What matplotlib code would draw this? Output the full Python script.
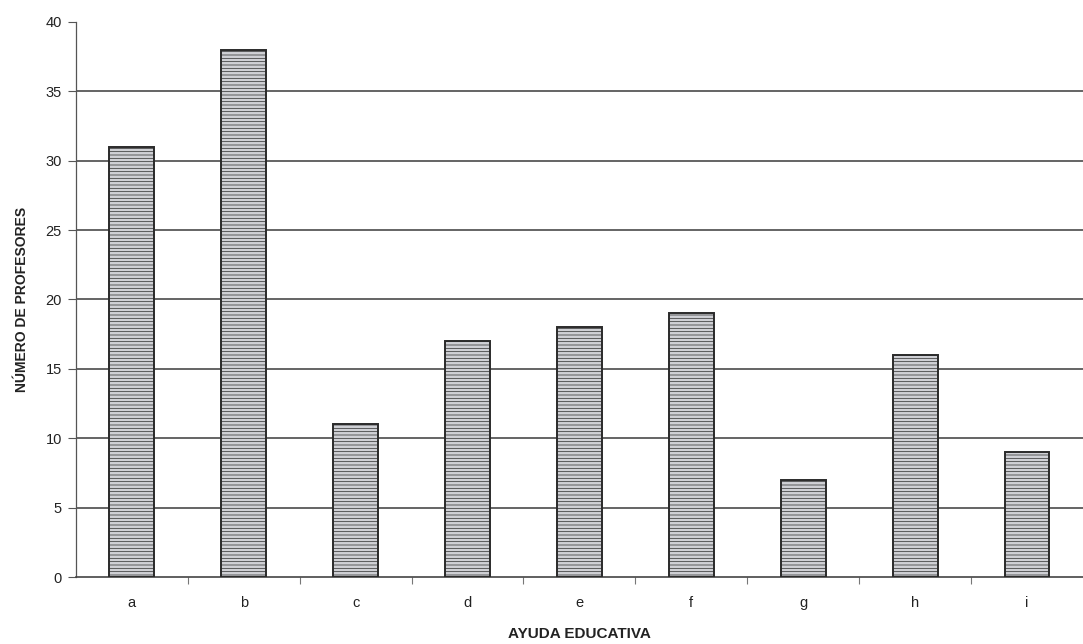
import matplotlib
matplotlib.use("Agg")
import matplotlib.pyplot as plt

categories = ["a", "b", "c", "d", "e", "f", "g", "h", "i"]
profesores = [31, 38, 11, 17, 18, 19, 7, 16, 9]
y_ticks = [0, 5, 10, 15, 20, 25, 30, 35, 40]

plt.rcParams["font.family"] = ["Liberation Sans", "DejaVu Sans"]
plt.rcParams["hatch.color"] = "#b4b5ba"
plt.rcParams["hatch.linewidth"] = 0.5

fig = plt.figure(figsize=(10.83, 6.44), dpi=100)
ax = fig.add_axes([0.070, 0.104, 0.930, 0.862])

x = list(range(len(categories)))
ax.bar(x, profesores, width=0.4, color="#cfd0d5", edgecolor="#2a2a2a",
       linewidth=1.4, hatch="-----", zorder=3)

ax.set_xlim(-0.5, len(categories) - 0.5)
ax.set_ylim(0, 40)
ax.set_yticks(y_ticks)
ax.set_xticks(x)
ax.set_xticklabels(categories)
ax.set_xticks([i + 0.5 for i in x[:-1]], minor=True)

# Horizontal gridlines below the top boundary
for v in y_ticks[1:-1]:
    ax.axhline(v, color="#3a3a3a", linewidth=1.1, zorder=1)

for side in ("top", "right"):
    ax.spines[side].set_visible(False)
ax.spines["left"].set_color("#555555")
ax.spines["bottom"].set_color("#444444")
ax.spines["left"].set_linewidth(0.9)
ax.spines["bottom"].set_linewidth(1.2)

ax.tick_params(axis="y", length=6, width=0.8, colors="#555555",
               labelcolor="#222222", labelsize=10.5, pad=4)
ax.tick_params(axis="x", which="major", length=0, labelsize=10.5,
               labelcolor="#222222", pad=14)
ax.tick_params(axis="x", which="minor", length=5, width=0.8, colors="#777777")

ax.set_ylabel("NÚMERO DE PROFESORES", fontsize=10, fontweight="bold",
              color="#222222", labelpad=12)
ax.set_xlabel("AYUDA EDUCATIVA", fontsize=11, fontweight="bold",
              color="#222222", labelpad=12)

fig.savefig("out.png", dpi=100, facecolor="white")
